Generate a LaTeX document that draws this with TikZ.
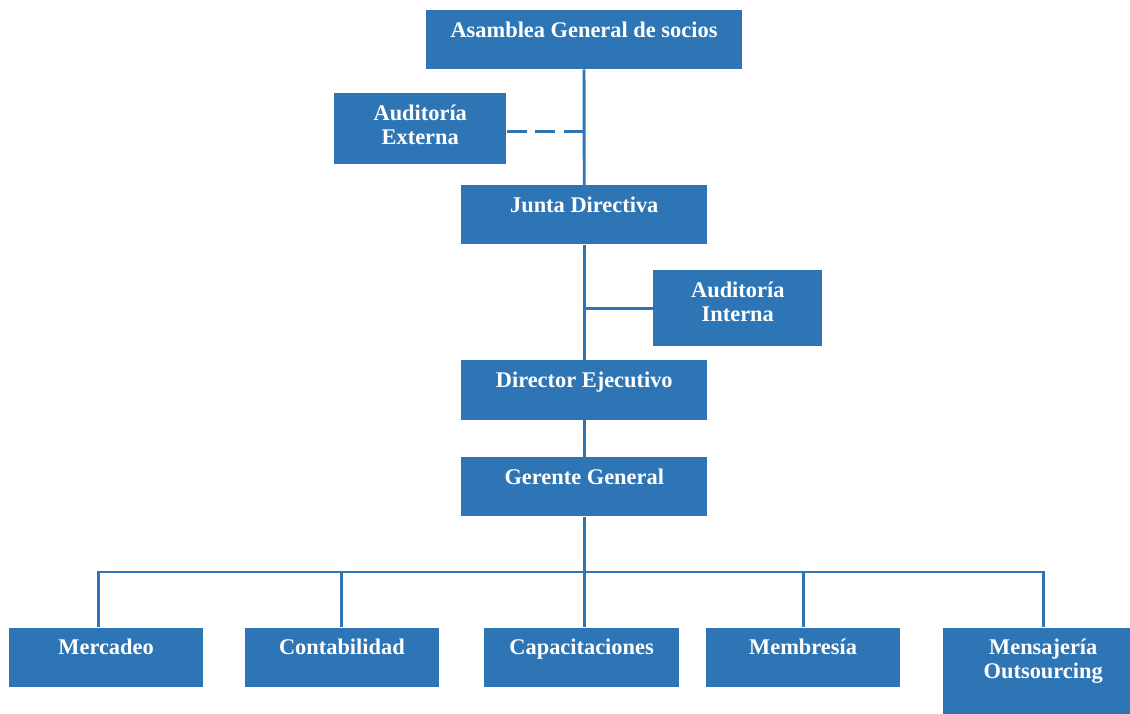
\documentclass[tikz,border=0pt]{standalone}
\usepackage{fontspec}
\setmainfont{Liberation Serif}
\usetikzlibrary{positioning}
\definecolor{orgblue}{RGB}{46,117,182}
\newcommand{\twolines}[2]{\begin{tabular}[t]{@{}c@{}}#1\\[-1.5pt]#2\end{tabular}}

\begin{document}
\begin{tikzpicture}[x=0.75pt, y=-0.75pt,
    box/.style={fill=orgblue, text=white, anchor=north west, inner sep=0pt,
      font=\bfseries\fontsize{16.8}{19.5}\selectfont, text height=20.5pt},
    unit/.style={box, minimum width=146pt, text depth=24.1pt},
    link/.style={draw=orgblue, line width=2.2pt}]
        \useasboundingbox (0,0) rectangle (1130,713);
        \clip (0,0) rectangle (1130,713);

          \node[box, minimum width=236.6pt, text depth=24.1pt] (asamblea) at (426,9.5) {Asamblea General de socios};
          \node[box, minimum width=129pt, text depth=32.8pt] (externa) at (334,93) {\twolines{Auditoría}{Externa}};
          \node[box, minimum width=184.5pt, text depth=23.8pt] (junta) at (461,185) {Junta Directiva};
          \node[box, minimum width=126.8pt, text depth=36.9pt] (interna) at (653,269.5) {\twolines{Auditoría}{Interna}};
          \node[box, minimum width=184.5pt, text depth=24pt] (director) at (461,360) {Director Ejecutivo};
          \node[box, minimum width=184.5pt, text depth=23.8pt] (gerente) at (461,457) {Gerente General};

          \node[unit] (mercadeo) at (8.5,627.3) {Mercadeo};
          \node[unit] (contab) at (244.3,627.3) {Contabilidad};
          \node[unit] (capac) at (484,627.3) {Capacitaciones};
          \node[unit] (membr) at (705.5,627.3) {Membresía};
          \node[unit, minimum width=150pt, text depth=52pt] (mensaj) at (943,627.3) {\twolines{Mensajería}{Outsourcing}};

          \coordinate (bus) at (583,572);

          % trunk
          \draw[link] (asamblea.south) -- (junta.north);
          \draw[link] (junta.south) -- (director.north);
          \draw[link] (director.south) -- (gerente.north);
          \draw[link] (gerente.south) -- (gerente.south |- capac.north);

          % auditorias
          \draw[link, dash pattern=on 15pt off 6.4pt] ([yshift=-2.2pt]externa.east -| asamblea.south) -- ([yshift=-2.2pt]externa.east);
          \draw[link] (interna.west) -- (interna.west -| junta.south);

          % departamentos
          \draw[link] ([xshift=-6pt]mercadeo.north) -- ++(0,-55.3) -| (mensaj.north);
          \foreach \n in {contab, membr}
            \draw[link] (\n.north) -- (\n.north |- bus);

\end{tikzpicture}
\end{document}
